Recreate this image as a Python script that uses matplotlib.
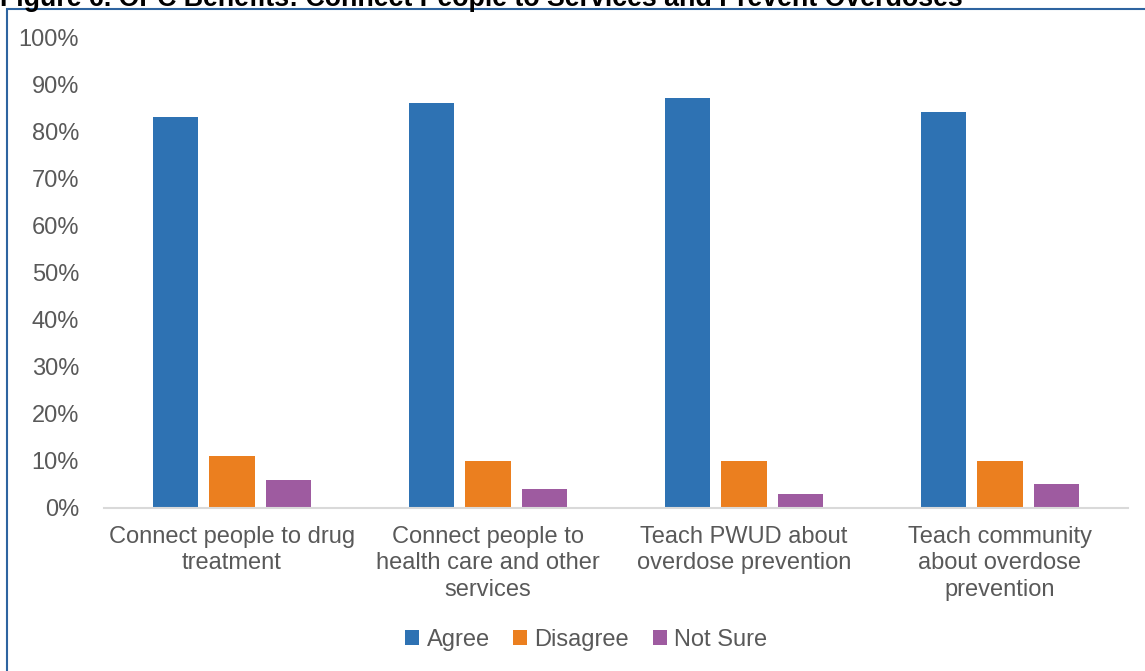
import matplotlib.pyplot as plt
import numpy as np
from matplotlib.patches import Rectangle

plt.rcParams["font.family"] = ["Liberation Sans", "DejaVu Sans"]

categories = [
    "Connect people to drug\ntreatment",
    "Connect people to\nhealth care and other\nservices",
    "Teach PWUD about\noverdose prevention",
    "Teach community\nabout overdose\nprevention",
]
agree = [83, 86, 87, 84]
disagree = [11, 10, 10, 10]
not_sure = [6, 4, 3, 5]
yticks = np.arange(0, 101, 10)

series = [("Agree", agree, "#2e72b3"),
          ("Disagree", disagree, "#eb7f1f"),
          ("Not Sure", not_sure, "#9e5ba0")]

W, H = 1145, 671
fig = plt.figure(figsize=(W / 100, H / 100), dpi=100)
ax = fig.add_axes([104 / W, 1 - 508 / H, 1024 / W, 471 / H])

x = np.arange(len(categories))
width = 0.176
step = 0.22
for i, (name, vals, color) in enumerate(series):
    ax.bar(x + (i - 1) * step, vals, width, color=color, label=name)

ax.set_xlim(-0.5, len(categories) - 0.5)
ax.set_ylim(0, 100)
ax.set_yticks(yticks)
ax.set_yticklabels([f"{v}%" for v in yticks])
ax.set_xticks(x)
ax.set_xticklabels(categories, linespacing=1.25)
ax.tick_params(axis="both", length=0, labelsize=17, labelcolor="#595959")
ax.tick_params(axis="y", pad=18)
ax.tick_params(axis="x", pad=13)
for s in ["top", "right", "left"]:
    ax.spines[s].set_visible(False)
ax.spines["bottom"].set_color("#d9d9d9")
ax.spines["bottom"].set_linewidth(1.5)

leg = fig.legend(loc="center", bbox_to_anchor=(0.512, 1 - 640 / H), ncol=3,
                 frameon=False, fontsize=17, handlelength=0.6,
                 handleheight=0.6, handletextpad=0.3, columnspacing=1.0)
for t in leg.get_texts():
    t.set_color("#595959")

# outer frame and the figure title running off the top edge
fig.patches.append(Rectangle((7 / W, -0.1), 1.2, 1 - 9 / H + 0.1,
                             transform=fig.transFigure, fill=False,
                             edgecolor="#2e64a0", linewidth=1.5))
fig.text(0, 1 - 6 / H,
         "Figure 6. OPC Benefits: Connect People to Services and Prevent Overdoses",
         fontsize=19.3, fontweight="bold", va="baseline", ha="left")

fig.savefig("out.png", dpi=100)
